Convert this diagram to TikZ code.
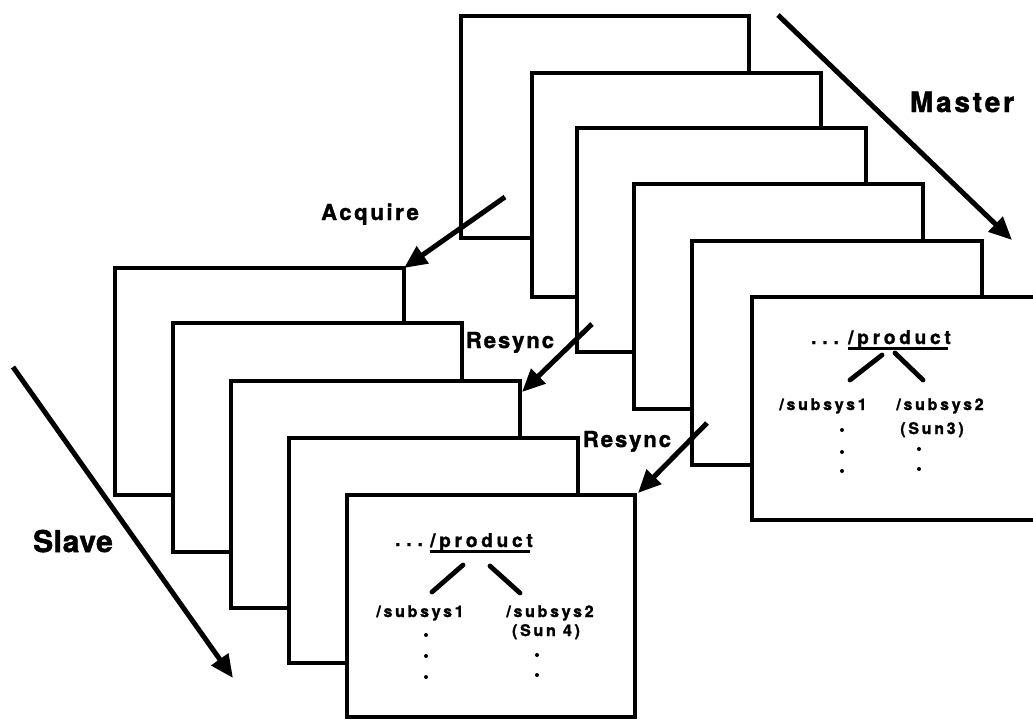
\documentclass[tikz,border=0pt]{standalone}
\usepackage{fontspec}
\setmainfont{TeX Gyre Heros}
\usetikzlibrary{arrows.meta}
\newcommand\trk[1]{\addfontfeatures{LetterSpace=#1,FakeBold=1.6}}
\begin{document}
\begin{tikzpicture}[x=1pt,y=-1pt,
  pbox/.style={draw=black, line width=3.8pt, fill=white, anchor=north west,
    inner sep=0pt, outer sep=0pt, minimum width=289pt, minimum height=225pt},
  bigarrow/.style={line width=5pt, -{Triangle[length=23pt,width=20pt]}},
  biglabel/.style={inner sep=0pt, anchor=base},
  boxtext/.style={inner sep=0pt, anchor=base, font=\bfseries\fontsize{16}{19}\selectfont\trk{17}},
  prodtext/.style={inner sep=0pt, font=\bfseries\fontsize{19}{22}\selectfont\trk{20}},
  treeline/.style={line width=4.8pt, line cap=round},
  vdot/.style={fill=black, circle, inner sep=0pt, minimum size=4pt}
]
\useasboundingbox (0,0) rectangle (1033,721);
\clip (0,0) rectangle (1033,721);
\fill[white] (0,0) rectangle (1033,721);

% Master stack
\node[pbox, minimum width=288pt, minimum height=222pt] (m1) at (461,16) {};
\node[pbox, minimum height=224pt] (m2) at (532,73) {};
\node[pbox, minimum height=224pt] (m3) at (577,128) {};
\node[pbox, minimum height=225pt] (m4) at (634,184) {};
\node[pbox, minimum width=290pt, minimum height=224pt] (m5) at (692,241) {};
\node[pbox, minimum width=320pt, minimum height=223pt] (m6) at (752,297) {};

% Slave stack
\node[pbox, minimum height=227pt] (s1) at (115,268) {};
\node[pbox, minimum height=229pt] (s2) at (173,323) {};
\node[pbox, minimum height=227pt] (s3) at (231,381) {};
\node[pbox, minimum height=225pt] (s4) at (289,438) {};
\node[pbox, minimum width=288pt, minimum height=222pt] (s5) at (347,495) {};

% Master box content
\node[prodtext, anchor=base] (mdots) at (825,344) {.\hspace{6pt}.\hspace{6pt}.};
\node[prodtext, anchor=base west] (mprod) at (848,344) {/product};
\draw[line width=3pt] ([yshift=-4pt]mprod.base west) -- ([yshift=-4pt,xshift=-3pt]mprod.base east);
\coordinate (mpl) at (882,355); \coordinate (mcl) at (850,380);
\coordinate (mpr) at (895,353); \coordinate (mcr) at (923,380);
\draw[treeline] (mpl) -- (mcl);
\draw[treeline] (mpr) -- (mcr);
\node[boxtext] (msub1) at (823,410) {/subsys1};
\node[boxtext] (msub2) at (940,410) {/subsys2};
\node[boxtext] (msun) at (932,434) {(Sun3)};
\node[vdot] (md1) at (842,430) {};
\node[vdot] (md2) at (842,452) {};
\node[vdot] (md3) at (842,471) {};
\node[vdot] (md4) at (919,449) {};
\node[vdot] (md5) at (919,469) {};

% Slave box content
\node[prodtext, anchor=base] (sdots) at (409,546) {.\hspace{6pt}.\hspace{6pt}.};
\node[prodtext, anchor=base west] (sprod) at (430,547) {/product};
\draw[line width=3pt] ([yshift=-4pt]sprod.base west) -- ([yshift=-4pt,xshift=-3pt]sprod.base east);
\coordinate (spl) at (463,565); \coordinate (scl) at (432,592);
\coordinate (spr) at (490,566); \coordinate (scr) at (520,593);
\draw[treeline] (spl) -- (scl);
\draw[treeline] (spr) -- (scr);
\node[boxtext] (ssub1) at (420,617) {/subsys1};
\node[boxtext] (ssub2) at (550,617) {/subsys2};
\node[boxtext] (ssun) at (546,636) {(Sun 4)};
\node[vdot] (sd1) at (426,635) {};
\node[vdot] (sd2) at (426,656) {};
\node[vdot] (sd3) at (426,677) {};
\node[vdot] (sd4) at (537,655) {};
\node[vdot] (sd5) at (537,675) {};

% Labels
\node[biglabel, font=\bfseries\fontsize{28}{32}\selectfont\trk{10}] (master) at (962,112) {Master};
\node[biglabel, font=\bfseries\fontsize{22}{26}\selectfont\trk{12}] (acquire) at (370,220) {Acquire};
\node[biglabel, font=\bfseries\fontsize{22}{26}\selectfont\trk{9}] (resync1) at (510,348) {Resync};
\node[biglabel, font=\bfseries\fontsize{22}{26}\selectfont\trk{9}] (resync2) at (627,447) {Resync};
\node[biglabel, font=\bfseries\fontsize{30}{34}\selectfont\trk{2}] (slave) at (73,552) {Slave};

% Arrows
\coordinate (acqstart) at (505,197);
\coordinate (rs1start) at (592,324);
\coordinate (rs1end) at (522,392);
\coordinate (rs2start) at (707,423);
\coordinate (rs2end) at (638,493);
\coordinate (mstart) at (778,15);
\coordinate (mend) at (1012,240);
\coordinate (sstart) at (13,367);
\coordinate (send) at (233,678);
\draw[bigarrow] (acqstart) -- (s1.north east);
\draw[bigarrow] (rs1start) -- (rs1end);
\draw[bigarrow] (rs2start) -- (rs2end);
\draw[bigarrow] (mstart) -- (mend);
\draw[bigarrow] (sstart) -- (send);
\end{tikzpicture}
\end{document}
